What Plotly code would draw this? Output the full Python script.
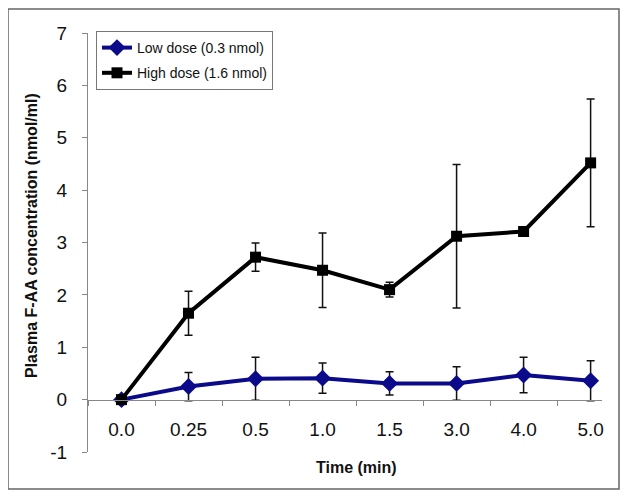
import plotly.graph_objects as go

categories = ["0.0", "0.25", "0.5", "1.0", "1.5", "3.0", "4.0", "5.0"]
low_dose = [0.0, 0.25, 0.40, 0.41, 0.31, 0.31, 0.47, 0.36]
low_err = [0.0, 0.27, 0.41, 0.29, 0.22, 0.32, 0.34, 0.38]
high_dose = [0.0, 1.65, 2.72, 2.47, 2.10, 3.12, 3.21, 4.52]
high_err = [0.0, 0.42, 0.27, 0.71, 0.14, 1.37, 0.05, 1.22]
y_ticks = [-1, 0, 1, 2, 3, 4, 5, 6, 7]
y_tick_labels = ["-1", "0", "1", "2", "3", "4", "5", "6", "7"]

FONT = "Liberation Sans, Arial, sans-serif"
OFF = 8  # default page body margin
W, H = 613, 484
L, T = 88 - OFF, 33 - OFF
R, B = W - (602 - OFF), H - (452 - OFF)
pw, ph = W - L - R, H - T - B


def px_x(x):
    return (x - OFF - L) / pw


def px_y(y):
    return (H - B - (y - OFF)) / ph


fig = go.Figure()
fig.add_trace(go.Scatter(
    x=categories, y=low_dose, name="Low dose (0.3 nmol)", mode="lines+markers",
    legendgroup="low",
    line=dict(color="#0a0a8a", width=4),
    marker=dict(symbol="diamond", size=13, color="#0a0a8a"),
    error_y=dict(type="data", array=low_err, color="#111", thickness=1.5, width=4),
))
fig.add_trace(go.Scatter(
    x=categories, y=high_dose, name="High dose (1.6 nmol)", mode="lines+markers",
    legendgroup="high",
    line=dict(color="#000000", width=4),
    marker=dict(symbol="square", size=11, color="#000000"),
    error_y=dict(type="data", array=high_err, color="#111", thickness=1.5, width=4),
))

fig.update_layout(
    width=W, height=H,
    margin=dict(l=L, r=R, t=T, b=B),
    paper_bgcolor="white", plot_bgcolor="white",
    font=dict(family=FONT, color="#111"),
    showlegend=True,
    legend=dict(
        x=px_x(96), y=px_y(31), xanchor="left", yanchor="top",
        bgcolor="white", bordercolor="#777", borderwidth=1,
        font=dict(size=14, family=FONT), tracegroupgap=4,
        itemwidth=30,
    ),
    xaxis=dict(
        type="category", range=[-0.5, 7.17], anchor="free", position=0.125,
        showline=True, linecolor="#888", linewidth=1,
        ticks="outside", tickson="boundaries", ticklen=5, tickcolor="#888",
        showgrid=False, zeroline=False,
        tickfont=dict(size=19, family=FONT, color="#111"),
        ticklabelstandoff=13,
    ),
    yaxis=dict(
        range=[-1, 7], tickvals=y_ticks, ticktext=y_tick_labels,
        showline=True, linecolor="#888", linewidth=1,
        ticks="outside", ticklen=5, tickcolor="#888",
        showgrid=False, zeroline=False,
        tickfont=dict(size=19, family=FONT, color="#111"),
        ticklabelstandoff=11,
    ),
    annotations=[
        dict(text="<b>Time (min)</b>", x=px_x(356), y=px_y(467), xref="paper", yref="paper",
             xanchor="center", yanchor="middle",
             showarrow=False, font=dict(size=16, family=FONT, color="#111")),
        dict(text="<b>Plasma F-AA concentration (nmol/ml)</b>", x=px_x(32), y=px_y(236),
             xref="paper", yref="paper", textangle=-90, showarrow=False,
             xanchor="center", yanchor="middle",
             font=dict(size=16, family=FONT, color="#111")),
    ],
    shapes=[
        dict(type="rect", xref="paper", yref="paper",
             x0=px_x(8), x1=px_x(619), y0=px_y(489), y1=px_y(9),
             line=dict(color="#666", width=1.5)),
    ],
)

fig.write_html("out.html")
